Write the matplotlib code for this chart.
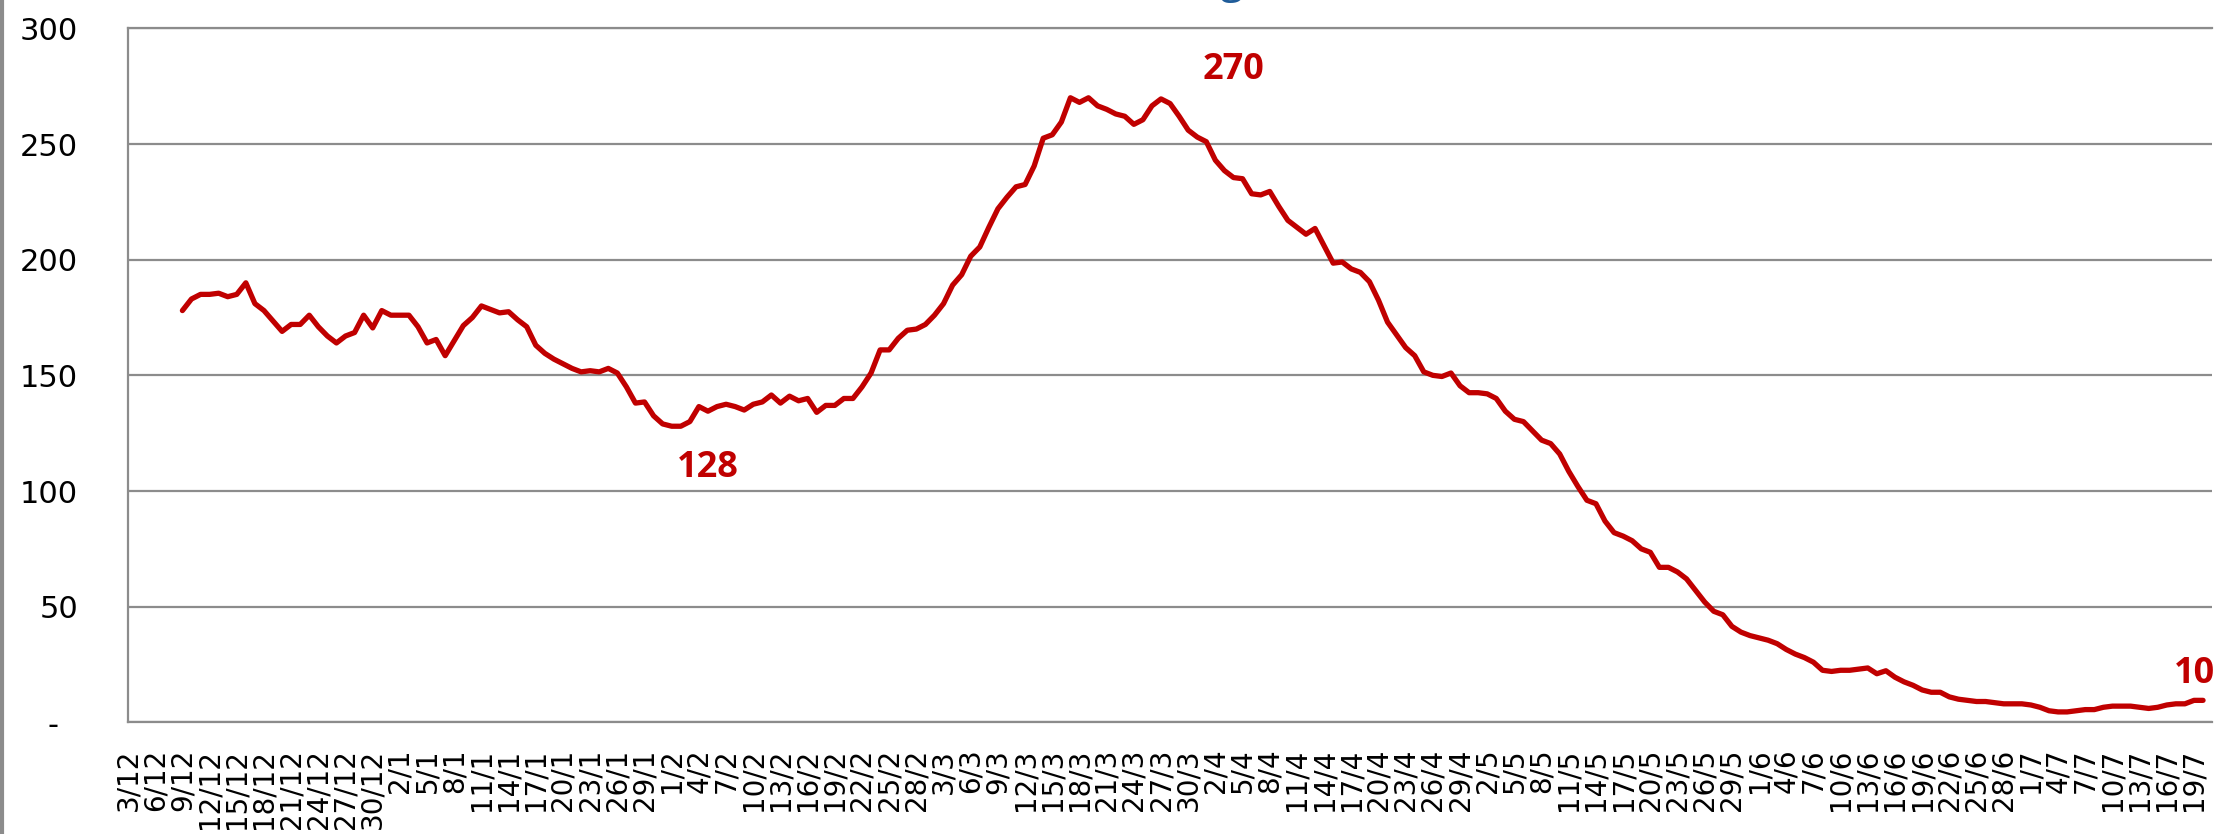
import matplotlib.pyplot as plt
import pandas as pd

# category axis: one slot per day, labels every 3 days
axis_start = pd.Timestamp("2020-12-03")
axis_end = pd.Timestamp("2021-07-21")
series_start = pd.Timestamp("2020-12-09")

# daily values, 9/12 -> 20/7
values = [
    178, 183, 185, 185, 185.5, 184, 185, 190, 181, 178,
    173.5, 169, 172, 172, 176, 171, 167, 164, 167, 168.5,
    176, 170.5, 178, 176, 176, 176, 171, 164, 165.5, 158.5,
    165, 171.5, 175, 180, 178.5, 177, 177.5, 174, 171, 163,
    159.5, 157, 155, 153, 151.5, 152, 151.5, 153, 151, 145,
    138, 138.5, 132.5, 129, 128, 128, 130, 136.5, 134.5, 136.5,
    137.5, 136.5, 135, 137.5, 138.5, 141.5, 138, 141, 139, 140,
    134, 137, 137, 140, 140, 145, 151, 161, 161, 166,
    169.5, 170, 172, 176, 181, 189, 193.5, 201.5, 205.5, 214,
    222, 227, 231.5, 232.5, 240.5, 252.5, 254, 259.5, 270, 268,
    270, 266.5, 265, 263, 262, 258.5, 260.5, 266.5, 269.5, 267.5,
    262, 256, 253, 251, 243, 238.5, 235.5, 235, 228.5, 228,
    229.5, 223, 217, 214, 211, 213.5, 206, 198.5, 199, 196,
    194.5, 190.5, 182.5, 173, 167.5, 162, 158.5, 151.5, 150, 149.5,
    151, 145.5, 142.5, 142.5, 142, 140, 134.5, 131, 130, 126,
    122, 120.5, 116, 108.5, 102, 96, 94.5, 87, 82, 80.5,
    78.5, 75, 73.5, 67, 67, 65, 62, 57, 52, 48,
    46.5, 41.5, 39, 37.5, 36.5, 35.5, 34, 31.5, 29.5, 28,
    26, 22.5, 22, 22.5, 22.5, 23, 23.5, 21, 22.3, 19.5,
    17.5, 16, 14, 13, 13, 11, 10, 9.5, 9, 9,
    8.5, 8, 8, 8, 7.5, 6.5, 5, 4.5, 4.5, 5,
    5.5, 5.5, 6.5, 7, 7, 7, 6.5, 6, 6.5, 7.5,
    8, 8, 9.5, 9.5,
]

# labelled points: (date, text, value position of the label)
labels_dates = ["2021-04-04", "2021-02-05", "2021-07-19"]
labels_text = ["270", "128", "10"]
labels_y = [282, 110, 21]

title = "(media mobile 7 giorni)"

red = "#C00000"
grey = "#8c8c8c"

days = pd.date_range(axis_start, axis_end)
tick_days = days[::3]
tick_pos = [(d - axis_start).days for d in tick_days]
tick_labels = [f"{d.day}/{d.month}" for d in tick_days]

x0 = (series_start - axis_start).days
xs = list(range(x0, x0 + len(values)))

fig = plt.figure(figsize=(22.23, 8.34), dpi=100)
ax = fig.add_axes([0.0576, 0.1339, 0.9375, 0.8321])

ax.plot(xs, values, color=red, lw=3.8, solid_joinstyle="round",
        solid_capstyle="round", zorder=3)

ax.set_xlim(0, len(days) - 1)
ax.set_ylim(0, 300)
ax.set_yticks(range(0, 301, 50))
ax.set_yticklabels(["-  "] + [str(v) for v in range(50, 301, 50)])
ax.set_xticks(tick_pos)
ax.set_xticklabels(tick_labels, rotation=90)

ax.grid(axis="y", color=grey, lw=1.6)
ax.set_axisbelow(True)
for side in ["left", "bottom", "top"]:
    ax.spines[side].set_color(grey)
    ax.spines[side].set_linewidth(1.6)
ax.spines["right"].set_visible(False)
ax.tick_params(axis="y", length=0, labelsize=22, pad=36)
ax.tick_params(axis="x", length=0, labelsize=20, pad=19)

for d, t, y in zip(labels_dates, labels_text, labels_y):
    xd = (pd.Timestamp(d) - axis_start).days
    ax.text(xd, y, t, color=red, fontsize=26, fontweight="bold",
            family="Open Sans", ha="center", va="center")

# title sits mostly above the visible area, only its descenders show
fig.text(0.504, 1.0084, title, color="#1F5C99", fontsize=30,
         family="Open Sans", ha="center", va="baseline")

fig.add_artist(plt.Line2D([0.001, 0.001], [0, 1], transform=fig.transFigure,
                          color=grey, lw=3))

fig.savefig("out.png", dpi=100)
